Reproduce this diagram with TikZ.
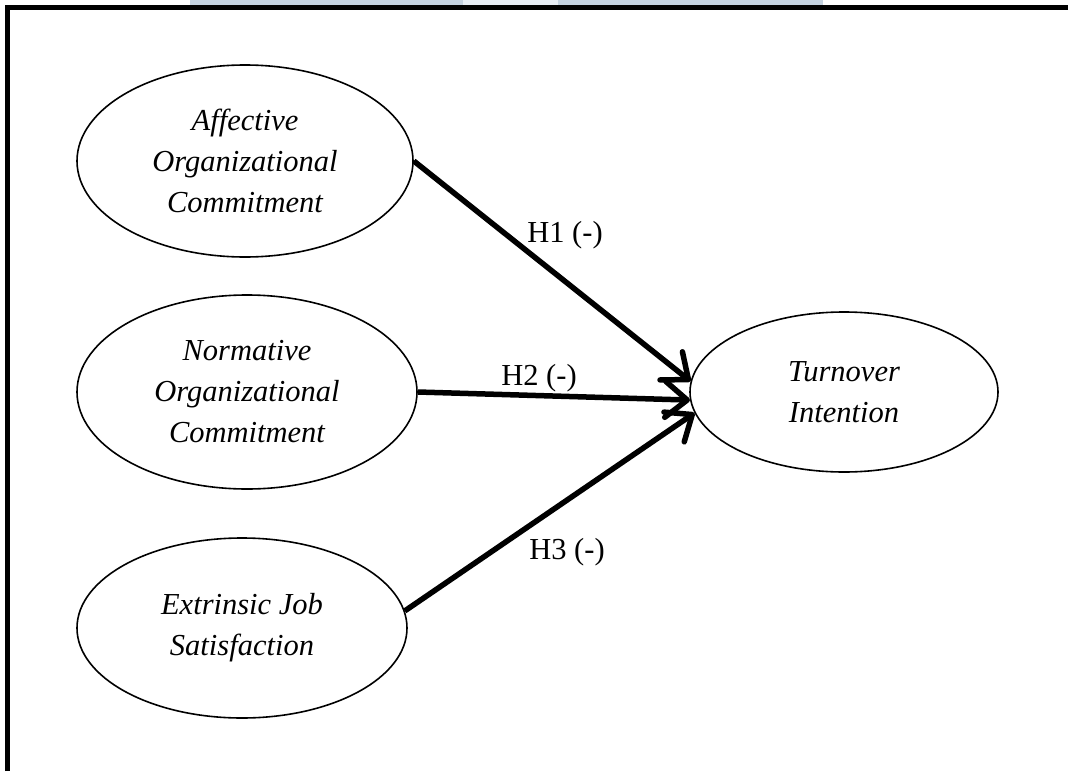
\documentclass[tikz,border=0pt]{standalone}
\usepackage{fontspec}
\setmainfont{Liberation Serif}
\usetikzlibrary{shapes.geometric,arrows.meta}
\definecolor{bandblue}{RGB}{196,210,224}
\definecolor{bandlight}{RGB}{232,238,245}
\begin{document}
\begin{tikzpicture}[x=1pt,y=-1pt,
  construct/.style={ellipse,draw,line width=1.6pt,inner sep=0pt,align=center,
    font=\fontsize{30.5}{41}\selectfont\itshape},
  hyp/.style={line width=5.5pt,-{Straight Barb[length=22pt,width=36pt,round]}},
  hlabel/.style={font=\fontsize{30.5}{36}\selectfont}]
\useasboundingbox (0,0) rectangle (1068,771);
% watermark strip and frame
\fill[bandblue] (190,0) rectangle (823,5);
\fill[bandlight] (463,0) rectangle (558,5);
\draw[line width=5pt,line join=miter] (7.5,771) -- (7.5,7.5) -- (1068,7.5);
% constructs
\node[construct,minimum width=336pt,minimum height=192pt] (affect) at (245,161) {Affective\\Organizational\\Commitment};
\node[construct,minimum width=340pt,minimum height=194pt] (norm) at (247,392) {Normative\\Organizational\\Commitment};
\node[construct,minimum width=330pt,minimum height=180pt] (extr) at (242,628) {Extrinsic Job\\Satisfaction};
\node[construct,minimum width=308pt,minimum height=160pt] (turn) at (844,392) {Turnover\\Intention};
% hypotheses
\draw[hyp] (affect.east) -- (turn.176);
\draw[hyp] (norm.east) -- (turn.183);
\draw[hyp] (extr.6) -- (turn.188);
\node[hlabel] (h1) at (565,235) {H1 (-)};
\node[hlabel] (h2) at (539,378) {H2 (-)};
\node[hlabel] (h3) at (567,552) {H3 (-)};
\end{tikzpicture}
\end{document}
